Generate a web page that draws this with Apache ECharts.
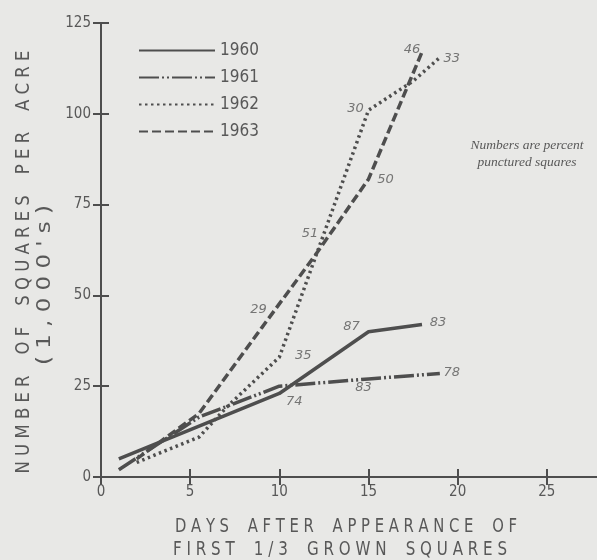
<!DOCTYPE html>
<html>
<head>
<meta charset="utf-8">
<script src="https://cdn.jsdelivr.net/npm/echarts@6/dist/echarts.min.js"></script>
<style>html,body{margin:0;padding:0;background:#e8e8e6;}#c{width:597px;height:560px;}</style>
</head>
<body>
<div id="c"></div>
<script>
// ---- data ----
const years = ['1960', '1961', '1962', '1963'];
const days1960 = [1, 10, 15, 18];
const sq1960   = [5, 23, 40, 42];
const pct1960  = ['', '74', '87', '83'];
const days1961 = [1, 5.5, 10, 15, 19];
const sq1961   = [2, 16.5, 25, 27, 28.5];
const pct1961  = ['', '', '', '83', '78'];
const days1962 = [2, 5.5, 7, 10, 15, 17.5, 19];
const sq1962   = [4, 11, 19, 33, 101, 109, 115.5];
const pct1962  = ['', '', '', '35', '30', '', '33'];
const days1963 = [2, 5.5, 9, 12, 15, 18];
const sq1963   = [5, 17.5, 41, 61, 82, 117];
const pct1963  = ['', '', '29', '51', '50', '46'];
const xTicks = [0, 5, 10, 15, 20, 25, 30];
const yTicks = [0, 25, 50, 75, 100, 125];
const note = ['Numbers are percent', 'punctured squares'];
const xTitle = ['DAYS AFTER APPEARANCE OF', 'FIRST 1/3 GROWN SQUARES'];
const yTitle = ['NUMBER OF SQUARES PER ACRE', "(1,000's)"];

// ---- layout / style ----
const INK = '#4e4e4e';
const TXT = '#585858';
const NARROW = "'Liberation Sans Narrow', 'DejaVu Sans Condensed', sans-serif";
const dashes = {
  '1960': 'solid',
  '1961': [20, 3, 2, 3, 2, 3],
  '1962': [2.5, 3.5],
  '1963': [9, 4]
};
const labelOffsets = {
  '1960': [null, [15, 8], [-17, -5], [16, -2]],
  '1961': [null, null, null, [-5, 9], [12, -1]],
  '1962': [null, null, null, [24, -2], [-13, -2], null, [12, 1]],
  '1963': [null, null, [-3, -18], [-5, -22], [17, 0], [-10, -2]]
};
const table = {
  '1960': [days1960, sq1960, pct1960],
  '1961': [days1961, sq1961, pct1961],
  '1962': [days1962, sq1962, pct1962],
  '1963': [days1963, sq1963, pct1963]
};
function spaced(s) {
  return s.split('').map(ch => ch === ' ' ? '  ' : ch).join(' ');
}
const mctx = document.createElement('canvas').getContext('2d');
function fitText(text, font, target) {
  mctx.font = font;
  return target / mctx.measureText(text).width;
}

const series = [];
const labelPts = [];
years.forEach(y => {
  const [xs, ys, ps] = table[y];
  series.push({
    name: y, type: 'line', symbol: 'none',
    lineStyle: { color: INK, width: 3.5, type: dashes[y] },
    itemStyle: { color: INK },
    data: xs.map((d, i) => [d, ys[i]])
  });
  ps.forEach((p, i) => {
    if (p) labelPts.push({
      value: [xs[i], ys[i]],
      label: { formatter: p, offset: labelOffsets[y][i] }
    });
  });
});
series.push({
  name: 'labels', type: 'scatter', symbolSize: 1,
  itemStyle: { color: 'rgba(0,0,0,0)' },
  label: {
    show: true, position: 'inside', align: 'center', verticalAlign: 'middle',
    color: TXT, fontSize: 13, fontStyle: 'italic', fontFamily: "'DejaVu Sans', sans-serif"
  },
  silent: true,
  data: labelPts
});

// axis titles: letter-spaced, fitted to the measured widths
const titleFont = "20px " + NARROW;
const tx0 = spaced(xTitle[0]), tx1 = spaced(xTitle[1]);
const ty0 = spaced(yTitle[0]), ty1 = spaced(yTitle[1]);
function titleText(text, x, y, target, rot) {
  const s = fitText(text, titleFont, target);
  return {
    type: 'text', x: x, y: y, rotation: rot || 0, scaleX: s, scaleY: 1,
    style: { text: text, fill: TXT, font: titleFont, textAlign: 'center', textVerticalAlign: 'middle' }
  };
}

const chart = echarts.init(document.getElementById('c'));
const axisCommon = {
  axisLine: { show: true, lineStyle: { color: INK, width: 2 } },
  axisTick: { show: true, inside: true, length: 8, lineStyle: { color: INK, width: 2 } },
  splitLine: { show: false }
};
chart.setOption({
  backgroundColor: '#e8e8e6',
  animation: false,
  grid: { left: 101, top: 23, width: 535, height: 454, outerBoundsMode: 'none', containLabel: false },
  legend: {
    data: years, orient: 'vertical', left: 133, top: 37,
    itemWidth: 76, itemHeight: 14, itemGap: 10,
    itemStyle: { opacity: 0 },
    textStyle: { color: TXT, fontSize: 17, fontFamily: NARROW }
  },
  xAxis: [
    Object.assign({
      type: 'value', position: 'bottom', min: xTicks[0], max: xTicks[xTicks.length - 1], interval: 5,
      axisLabel: { color: TXT, fontSize: 15, fontFamily: NARROW, margin: 8 }
    }, axisCommon),
    Object.assign({
      type: 'value', position: 'top', min: xTicks[0], max: xTicks[xTicks.length - 1], interval: 5,
      axisLabel: { show: false }
    }, axisCommon)
  ],
  yAxis: [
    Object.assign({
      type: 'value', position: 'left', min: yTicks[0], max: yTicks[yTicks.length - 1], interval: 25,
      axisLabel: { color: TXT, fontSize: 15, fontFamily: NARROW, margin: 10 }
    }, axisCommon),
    Object.assign({
      type: 'value', position: 'right', min: yTicks[0], max: yTicks[yTicks.length - 1], interval: 25,
      axisLabel: { show: false }
    }, axisCommon)
  ],
  graphic: [
    titleText(tx0, 346, 527, 342),
    titleText(tx1, 340, 550, 334),
    titleText(ty0, 24, 262, 423, Math.PI / 2),
    titleText(ty1, 45, 285, 160, Math.PI / 2),
    { type: 'text', x: 527, y: 145, style: { text: note[0], fill: TXT, font: "italic 13.5px 'Liberation Serif', serif", textAlign: 'center', textVerticalAlign: 'middle' } },
    { type: 'text', x: 527, y: 162, style: { text: note[1], fill: TXT, font: "italic 13.5px 'Liberation Serif', serif", textAlign: 'center', textVerticalAlign: 'middle' } }
  ],
  series: series
});
</script>
</body>
</html>
